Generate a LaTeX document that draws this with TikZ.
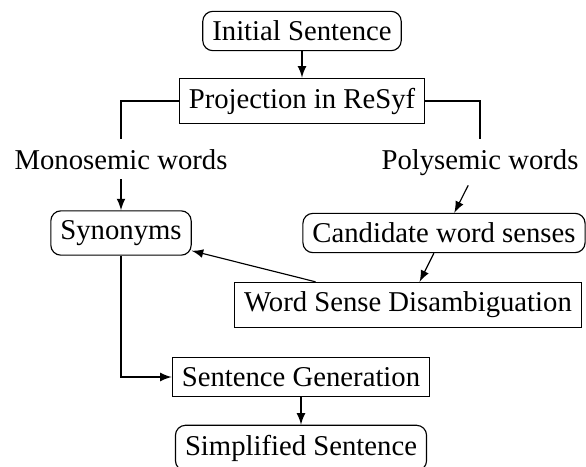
\documentclass[tikz,border=0pt]{standalone}
\usepackage{fontspec}
\setmainfont{Liberation Serif}
\begin{document}
\begin{tikzpicture}[x=0.3484pt,y=-0.3484pt,
		proc/.style={draw},
		term/.style={draw,rounded corners=3.5pt},
		label/.style={anchor=base}]
	      		\useasboundingbox (0,0) rectangle (586,466);
	      		\node[term] (init) at (302,31) {Initial Sentence};
	      		\node[proc] (proj) at (302,101) {Projection in ReSyf};
	      		\node[label] (mono) at (121,169) {Monosemic words};
	      		\node[label] (poly) at (480,169) {Polysemic words};
	      		\node[term] (syn) at (121,233) {Synonyms};
	      		\node[term] (cand) at (444,233) {Candidate word senses};
	      		\node[proc] (wsd) at (408,305) {Word Sense Disambiguation};
	      		\node[proc] (gen) at (301,377) {Sentence Generation};
	      		\node[term] (simp) at (301,448) {Simplified Sentence};
	      		\draw[-latex] (init) -- (proj);
	      		\draw (proj.west) -| (mono.north);
	      		\draw (proj.east) -| (poly.north);
	      		\draw[-latex] (mono) -- (syn);
	      		\draw[-latex] (poly) -- (cand);
	      		\draw[-latex] (cand) -- (wsd);
	      		\draw[-latex] (wsd) -- (syn);
	      		\draw[-latex] (syn.south) |- (gen.west);
	      		\draw[-latex] (gen) -- (simp);
	      	\end{tikzpicture}
\end{document}
